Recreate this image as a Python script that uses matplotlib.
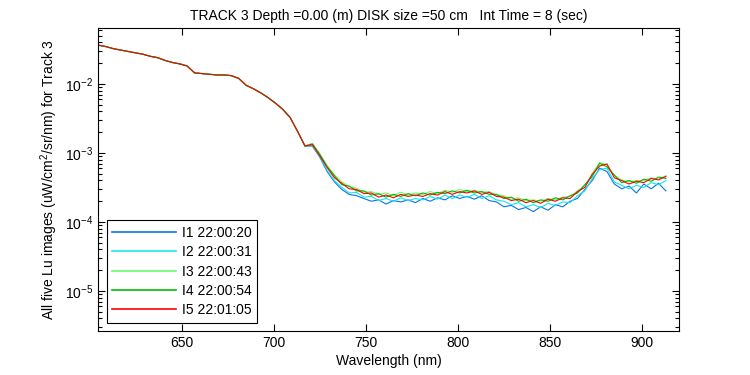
import numpy as np
import matplotlib
matplotlib.use('Agg')
import matplotlib.pyplot as plt
from matplotlib.ticker import LogLocator, FixedLocator

plt.rcParams['font.family'] = ['Liberation Sans', 'DejaVu Sans']
plt.rcParams['mathtext.fontset'] = 'custom'
plt.rcParams['mathtext.rm'] = 'Liberation Sans'
plt.rcParams['mathtext.it'] = 'Liberation Sans'

# Wavelength sampling (nm)
wavelength = np.arange(605, 917, 4)

# log10 of Lu (uW/cm^2/sr/nm), one list per image
smooth_part = [-1.44, -1.46, -1.49, -1.51, -1.53, -1.55, -1.57, -1.60, -1.62, -1.66,
               -1.69, -1.71, -1.74, -1.84, -1.85, -1.86, -1.87, -1.87, -1.88, -1.92,
               -2.02, -2.07, -2.13, -2.20, -2.28, -2.37, -2.49, -2.69, -2.90]

log_i1 = smooth_part + [
    -2.90, -3.06, -3.27, -3.42, -3.53, -3.60, -3.62, -3.66, -3.70, -3.68,
    -3.74, -3.69, -3.71, -3.68, -3.72, -3.66, -3.70, -3.65, -3.68, -3.62,
    -3.66, -3.63, -3.67, -3.62, -3.69, -3.71, -3.78, -3.76, -3.82, -3.79,
    -3.85, -3.78, -3.83, -3.75, -3.78, -3.70, -3.66, -3.53, -3.40, -3.22,
    -3.27, -3.45, -3.52, -3.48, -3.58, -3.45, -3.52, -3.44, -3.55]
log_i2 = smooth_part + [
    -2.89, -3.05, -3.25, -3.40, -3.50, -3.58, -3.57, -3.64, -3.63, -3.69,
    -3.66, -3.70, -3.65, -3.69, -3.66, -3.68, -3.63, -3.67, -3.61, -3.66,
    -3.61, -3.64, -3.60, -3.66, -3.62, -3.68, -3.70, -3.75, -3.72, -3.78,
    -3.75, -3.79, -3.73, -3.76, -3.71, -3.72, -3.62, -3.55, -3.37, -3.24,
    -3.22, -3.42, -3.47, -3.52, -3.47, -3.50, -3.43, -3.46, -3.40]
log_i3 = smooth_part + [
    -2.86, -3.01, -3.18, -3.32, -3.42, -3.49, -3.51, -3.57, -3.56, -3.60,
    -3.58, -3.62, -3.57, -3.61, -3.58, -3.60, -3.56, -3.59, -3.54, -3.57,
    -3.53, -3.56, -3.54, -3.57, -3.56, -3.61, -3.62, -3.67, -3.65, -3.69,
    -3.68, -3.70, -3.66, -3.68, -3.64, -3.63, -3.55, -3.47, -3.30, -3.14,
    -3.17, -3.33, -3.39, -3.42, -3.40, -3.40, -3.36, -3.38, -3.33]
log_i4 = smooth_part + [
    -2.87, -3.02, -3.20, -3.33, -3.46, -3.48, -3.55, -3.55, -3.61, -3.59,
    -3.64, -3.60, -3.63, -3.59, -3.62, -3.58, -3.61, -3.57, -3.59, -3.55,
    -3.58, -3.54, -3.58, -3.56, -3.60, -3.60, -3.66, -3.64, -3.70, -3.67,
    -3.72, -3.68, -3.70, -3.65, -3.68, -3.62, -3.58, -3.46, -3.34, -3.15,
    -3.20, -3.32, -3.43, -3.40, -3.44, -3.38, -3.41, -3.35, -3.37]
log_i5 = smooth_part + [
    -2.88, -3.04, -3.21, -3.36, -3.44, -3.52, -3.53, -3.59, -3.58, -3.64,
    -3.61, -3.65, -3.60, -3.63, -3.61, -3.63, -3.59, -3.61, -3.56, -3.60,
    -3.56, -3.58, -3.55, -3.60, -3.57, -3.63, -3.64, -3.69, -3.67, -3.72,
    -3.69, -3.73, -3.67, -3.70, -3.65, -3.66, -3.56, -3.50, -3.31, -3.19,
    -3.16, -3.36, -3.40, -3.45, -3.41, -3.43, -3.37, -3.39, -3.34]

labels = ['I1 22:00:20', 'I2 22:00:31', 'I3 22:00:43', 'I4 22:00:54', 'I5 22:01:05']
colors = ['#0a74e6', '#14e6f0', '#66ff66', '#00bb00', '#ff0000']

fig = plt.figure(figsize=(7.5, 3.75), dpi=100)
ax = fig.add_axes([0.131, 0.1173, 0.774, 0.808])

for logs, lab, col in zip([log_i1, log_i2, log_i3, log_i4, log_i5], labels, colors):
    ax.plot(wavelength, 10.0 ** np.array(logs), color=col, lw=0.8, label=lab)

ax.set_yscale('log')
ax.set_xlim(604.7, 920)
ax.set_ylim(10 ** -5.58, 10 ** -1.19)
ax.xaxis.set_major_locator(FixedLocator([650, 700, 750, 800, 850, 900]))
ax.yaxis.set_major_locator(LogLocator(base=10, numticks=10))
ax.yaxis.set_minor_locator(LogLocator(base=10, subs=np.arange(2, 10), numticks=20))
ax.tick_params(which='both', direction='in', top=True, right=True,
               labelsize=10, width=0.8)
ax.tick_params(which='major', length=5)
ax.tick_params(which='minor', length=3)
for s in ax.spines.values():
    s.set_linewidth(0.8)

ax.set_title('TRACK 3 Depth =0.00 (m) DISK size =50 cm   Int Time = 8 (sec)',
             fontsize=10, pad=6)
ax.set_xlabel('Wavelength (nm)', fontsize=10, labelpad=3)
ax.set_ylabel('All five Lu images (uW/cm$^2$/sr/nm) for Track 3', fontsize=10)

leg = ax.legend(loc='lower left', fontsize=10, handlelength=4.6, handletextpad=0.4,
                labelspacing=0.38, fancybox=False, framealpha=1, edgecolor='black',
                borderaxespad=0.6, borderpad=0.4)
leg.get_frame().set_linewidth(0.8)
for h in leg.get_lines():
    h.set_linewidth(1.2)

fig.savefig('out.png', dpi=100)
